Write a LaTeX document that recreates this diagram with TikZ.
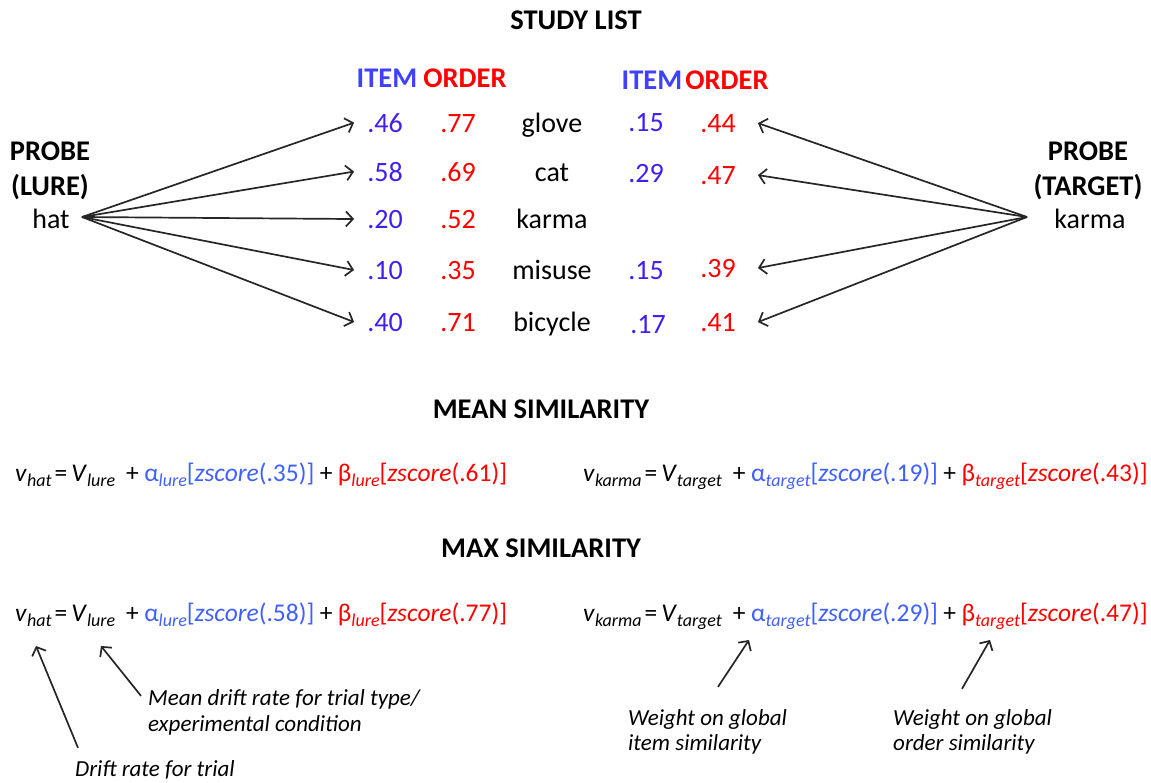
\documentclass[tikz,border=0pt]{standalone}
\usepackage{fontspec}
\setmainfont{Carlito}
\usetikzlibrary{arrows.meta}
\definecolor{numblue}{RGB}{64,32,240}
\definecolor{hdrblue}{RGB}{64,64,255}
\definecolor{eqblue}{RGB}{64,96,255}
\definecolor{eqred}{RGB}{255,0,0}
\newcommand{\sbs}[1]{\raisebox{-5.5pt}{\fontsize{18}{18}\selectfont\itshape #1}}
\begin{document}
\begin{tikzpicture}[x=1pt,y=-1pt,
  lbl/.style={inner sep=0pt, anchor=base, font=\fontsize{28}{32}\selectfont},
  hdr/.style={inner sep=0pt, anchor=base, font=\fontsize{28.5}{32}\selectfont\bfseries},
  numb/.style={lbl, text=numblue},
  numr/.style={lbl, text=eqred},
  eqn/.style={inner sep=0pt, anchor=base west, font=\fontsize{25.5}{30}\selectfont},
  note/.style={inner sep=0pt, anchor=base west, font=\fontsize{23}{26}\selectfont\itshape},
  arr/.style={-{Straight Barb[length=7pt,width=15pt]}, line width=1.7pt, black!85},
]
\useasboundingbox (0,0) rectangle (1151,782);
\fill[white] (0,0) rectangle (1151,782);

% titles
\node[hdr] (study) at (576,29) {STUDY LIST};
\node[hdr, text=hdrblue] (hi1) at (387,87) {ITEM};
\node[hdr, text=eqred] (ho1) at (465,87) {ORDER};
\node[hdr, text=hdrblue] (hi2) at (652,89) {ITEM};
\node[hdr, text=eqred] (ho2) at (727,89) {ORDER};

% probes
\node[hdr] (pl1) at (50,160) {PROBE};
\node[hdr] (pl2) at (50,195) {(LURE)};
\node[lbl] (hat) at (51,228) {hat};
\node[hdr] (pt1) at (1088,160) {PROBE};
\node[hdr] (pt2) at (1088,195) {(TARGET)};
\node[lbl] (karma) at (1090,228) {karma};
\coordinate (hatpt) at (82,217);
\coordinate (karmapt) at (1027,217);

% rows
\node[numb] (li1) at (385,132) {.46};
\node[numr] (lo1) at (458,132) {.77};
\node[lbl]  (w1)  at (552,132) {glove};
\node[numb] (ri1) at (646,131) {.15};
\node[numr] (ro1) at (718,132) {.44};

\node[numb] (li2) at (385,181) {.58};
\node[numr] (lo2) at (458,181) {.69};
\node[lbl]  (w2)  at (552,181) {cat};
\node[numb] (ri2) at (646,182) {.29};
\node[numr] (ro2) at (718,184) {.47};

\node[numb] (li3) at (385,228) {.20};
\node[numr] (lo3) at (458,228) {.52};
\node[lbl]  (w3)  at (552,228) {karma};

\node[numb] (li4) at (385,279) {.10};
\node[numr] (lo4) at (458,279) {.35};
\node[lbl]  (w4)  at (552,279) {misuse};
\node[numb] (ri4) at (646,279) {.15};
\node[numr] (ro4) at (718,277) {.39};

\node[numb] (li5) at (385,331) {.40};
\node[numr] (lo5) at (458,331) {.71};
\node[lbl]  (w5)  at (552,331) {bicycle};
\node[numb] (ri5) at (648,333) {.17};
\node[numr] (ro5) at (718,331) {.41};

\foreach \i in {1,...,5}{
  \draw[arr] (hatpt) -- ([xshift=-13pt]li\i.west);
}
\foreach \i in {1,2,4,5}{
  \draw[arr] (karmapt) -- ([xshift=22pt]ro\i.east);
}

% mean similarity
\node[hdr] (mean) at (541,418) {MEAN SIMILARITY};
\node[eqn] (e1l) at (15,481) {\textit{v}\sbs{hat}\kern3pt=\kern4pt\textit{V}\sbs{lure}\kern11pt+\kern5pt};
\node[eqn, text=eqblue] (e1a) at (e1l.base east) {α\sbs{lure}[\textit{zscore}(.35)]};
\node[eqn] (e1p) at (e1a.base east) {\kern5pt+\kern5pt};
\node[eqn, text=eqred] (e1b) at (e1p.base east) {β\sbs{lure}[\textit{zscore}(.61)]};

\node[eqn] (e2l) at (583,481) {\textit{v}\sbs{karma}\kern3pt=\kern4pt\textit{V}\sbs{target}\kern11pt+\kern5pt};
\node[eqn, text=eqblue] (e2a) at (e2l.base east) {α\sbs{target}[\textit{zscore}(.19)]};
\node[eqn] (e2p) at (e2a.base east) {\kern5pt+\kern5pt};
\node[eqn, text=eqred] (e2b) at (e2p.base east) {β\sbs{target}[\textit{zscore}(.43)]};

% max similarity
\node[hdr] (max) at (541,557) {MAX SIMILARITY};
\node[eqn] (e3l) at (15,621) {\textit{v}\sbs{hat}\kern3pt=\kern4pt\textit{V}\sbs{lure}\kern11pt+\kern5pt};
\node[eqn, text=eqblue] (e3a) at (e3l.base east) {α\sbs{lure}[\textit{zscore}(.58)]};
\node[eqn] (e3p) at (e3a.base east) {\kern5pt+\kern5pt};
\node[eqn, text=eqred] (e3b) at (e3p.base east) {β\sbs{lure}[\textit{zscore}(.77)]};

\node[eqn] (e4l) at (583,621) {\textit{v}\sbs{karma}\kern3pt=\kern4pt\textit{V}\sbs{target}\kern11pt+\kern5pt};
\node[eqn, text=eqblue] (e4a) at (e4l.base east) {α\sbs{target}[\textit{zscore}(.29)]};
\node[eqn] (e4p) at (e4a.base east) {\kern5pt+\kern5pt};
\node[eqn, text=eqred] (e4b) at (e4p.base east) {β\sbs{target}[\textit{zscore}(.47)]};

% annotations
\node[note] (nm1) at (148,705) {Mean drift rate for trial type/};
\node[note] (nm2) at (148,731) {experimental condition};
\node[note] (nd) at (75,776) {Drift rate for trial};
\node[note] (ni1) at (628,725) {Weight on global};
\node[note] (ni2) at (628,750) {item similarity};
\node[note] (no1) at (893,725) {Weight on global};
\node[note] (no2) at (893,750) {order similarity};

\coordinate (hA) at (36,646);
\coordinate (hB) at (101,646);
\coordinate (hC) at (749,640);
\coordinate (hD) at (990,640);
\draw[arr] ([shift={(3pt,12pt)}]nd.north west) -- (hA);
\draw[arr] ([xshift=-7pt,yshift=3pt]nm1.west) -- (hB);
\draw[arr] ([shift={(90pt,22pt)}]ni1.north west) -- (hC);
\draw[arr] ([shift={(69pt,20pt)}]no1.north west) -- (hD);
\end{tikzpicture}
\end{document}
